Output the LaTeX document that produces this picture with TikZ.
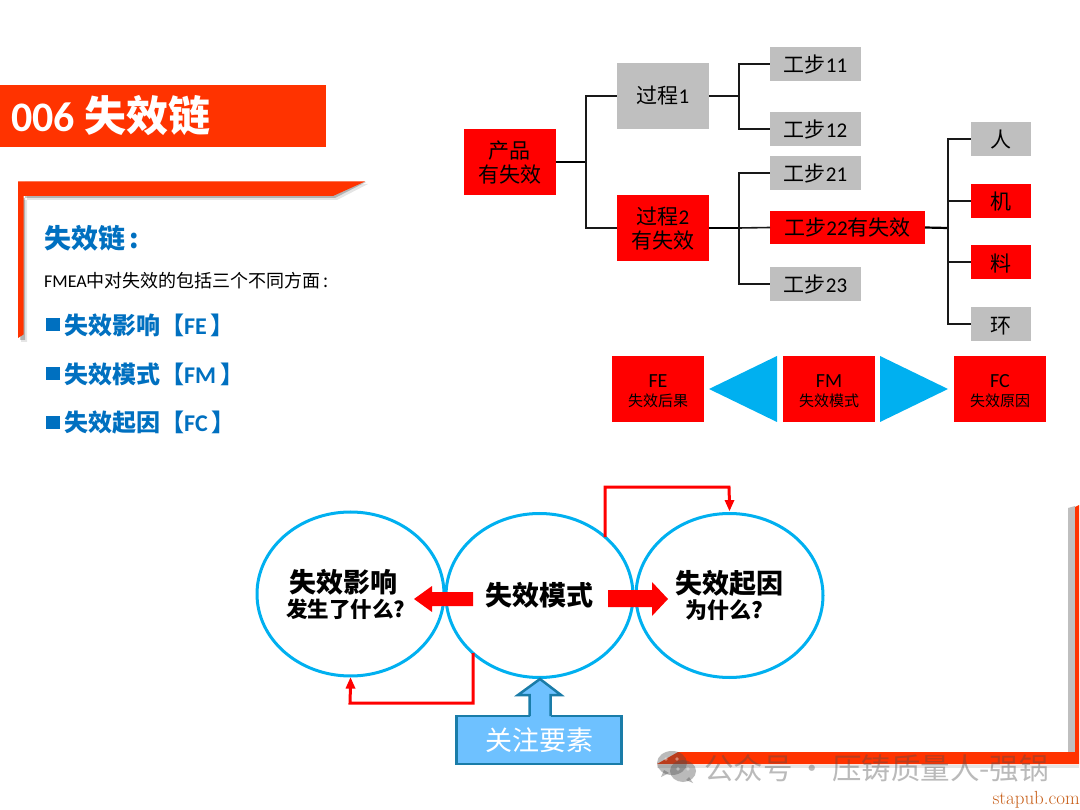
\documentclass[tikz,border=0pt]{standalone}
\usepackage{fontspec}
\usetikzlibrary{shapes.geometric,calc}
\newfontfamily\cjk{Noto Sans CJK SC}
\newfontfamily\lat{Carlito}
\definecolor{orangebar}{HTML}{FF3300}
\definecolor{boxred}{HTML}{FF0000}
\definecolor{boxgray}{HTML}{BFBFBF}
\definecolor{sky}{HTML}{00B0F0}
\definecolor{headblue}{HTML}{0070C0}
\definecolor{focusfill}{HTML}{6EC1FF}
\definecolor{focusline}{HTML}{1A7CA8}
\definecolor{siteorange}{HTML}{C8601A}
\newcommand\fsz[1]{\fontsize{#1}{#1}\selectfont}
\newcommand\dn[2]{\raisebox{-#1}[\height][\depth]{#2}}
\tikzset{
  tbox/.style={rectangle,inner sep=0pt,outer sep=0pt,align=center,text=black,font=\cjk\fontsize{21}{24}\selectfont},
  redbox/.style={tbox,fill=boxred},
  graybox/.style={tbox,fill=boxgray},
  stepsize/.style={minimum width=91pt,minimum height=34pt},
  facsize/.style={minimum width=60pt,minimum height=34pt},
  procsize/.style={minimum width=92pt,minimum height=66pt},
  conn/.style={draw=black!90,line width=1.6pt},
  connheavy/.style={draw=black,line width=2.2pt},
  elbow/.style={draw=boxred,line width=3pt},
  bubble/.style={ellipse,draw=sky,line width=3pt,inner sep=0pt,minimum width=187pt,minimum height=164pt},
  heading/.style={anchor=west,inner sep=0pt,text=headblue,font=\cjk\bfseries\fsz{24}}
}
\begin{document}
\begin{tikzpicture}[x=1pt,y=-1pt]
\useasboundingbox (0,0) rectangle (1080,810);
\fill[white] (0,0) rectangle (1080,810);

% title bar
\fill[orangebar] (0,85) rectangle (326,147);
\node[anchor=west,inner sep=0pt,text=white,font=\cjk\bfseries\fsz{42}] (title) at (11,116) {{\lat 006} 失效链};

% upper left bracket
\fill[black,opacity=.10] (23,200) -- (337,200) -- (368,184) -- (340,184) -- (27,184) -- (27,342) -- (21,342) -- cycle;
\fill[black,opacity=.22] (23,198) -- (335,198) -- (366,182) -- (340,182) -- (25,182) -- (25,340) -- (20,340) -- cycle;
\fill[orangebar] (18,181.5) -- (365,181.5) -- (333,196) -- (23.5,196) -- (23.5,334.5) -- (18,338) -- cycle;

% left text
\node[anchor=west,inner sep=0pt,text=headblue,font=\cjk\bfseries\fsz{27}] (hd) at (44,238) {失效链\,:};
\node[anchor=west,inner sep=0pt,text=black,font=\cjk\fsz{18}] (intro) at (44,281) {{\lat FMEA}中对失效的包括三个不同方面\,:};
\node[heading] (fe) at (64,325) {失效影响【{\lat FE}\,】};
\node[heading] (fm) at (64,374) {失效模式【{\lat FM}\,】};
\node[heading] (fc) at (64,423) {失效起因【{\lat FC}\,】};
\foreach \yy in {325,374,423}
  \fill[headblue] (46,\yy-7) rectangle (60,\yy+6);

% tree
\node[redbox,procsize] (prod) at (509.5,162) {\dn{1pt}{产品}\\\dn{1pt}{有失效}};
\node[graybox,procsize] (p1) at (663,96) {过程{\lat 1}};
\node[redbox,procsize] (p2) at (663,228) {\dn{1pt}{过程{\lat 2}}\\\dn{1pt}{有失效}};
\node[graybox,stepsize] (s11) at (815.5,64) {工步{\lat 11}};
\node[graybox,stepsize] (s12) at (815.5,129) {工步{\lat 12}};
\node[graybox,stepsize] (s21) at (815.5,173) {工步{\lat 21}};
\node[redbox,minimum width=155pt,minimum height=33pt] (s22) at (847.5,227.5) {工步{\lat 22}有失效};
\node[graybox,stepsize] (s23) at (815.5,284) {工步{\lat 23}};
\node[graybox,facsize] (ren) at (1001,139) {\dn{1pt}{人}};
\node[redbox,facsize] (ji) at (1001,201) {\dn{1pt}{机}};
\node[redbox,facsize] (liao) at (1001,262) {\dn{2pt}{料}};
\node[graybox,facsize] (huan) at (1001,324) {\dn{2pt}{环}};

\coordinate (j1) at (586,162);
\coordinate (j2) at (739,96);
\coordinate (j3) at (739,228);
\coordinate (j4) at (948,228);
\draw[connheavy] (prod.east) -- (j1);
\draw[conn] (j1) |- (p1.west);
\draw[conn] (j1) |- (p2.west);
\draw[conn] (p1.east) -- (j2);
\draw[conn] (j2) |- (s11.west);
\draw[conn] (j2) |- (s12.west);
\draw[connheavy] (p2.east) -- (j3);
\draw[conn] (j3) |- (s21.west);
\draw[conn] (j3) -- (s22.west);
\draw[conn] (j3) |- (s23.west);
\draw[connheavy] (s22.east) -- (j4);
\draw[conn] (j4) |- (ren.west);
\draw[conn] (j4) |- (ji.west);
\draw[conn] (j4) |- (liao.west);
\draw[conn] (j4) |- (huan.west);

% FE FM FC row
\node[redbox,procsize,font=\cjk\fsz{15}] (bfe) at (658,389) {\dn{2pt}{\lat\fsz{20}FE}\\[3pt]\dn{3pt}{失效后果}};
\node[redbox,procsize,font=\cjk\fsz{15}] (bfm) at (829,389) {\dn{2pt}{\lat\fsz{20}FM}\\[3pt]\dn{3pt}{失效模式}};
\node[redbox,procsize,font=\cjk\fsz{15}] (bfc) at (1000,389) {\dn{2pt}{\lat\fsz{20}FC}\\[3pt]\dn{3pt}{失效原因}};
\fill[sky] (709,389) -- (777,356) -- (777,422) -- cycle;
\fill[sky] (948,389) -- (880,356) -- (880,422) -- cycle;

% bubbles
\node[bubble] (left) at (350.5,594) {};
\node[bubble] (mid) at (539.5,595.5) {};
\node[bubble] (right) at (729.5,595.5) {};

\node[inner sep=0pt,align=center,font=\cjk\bfseries\fsz{27}] (ltxt) at (343,582) {失效影响};
\node[inner sep=0pt,align=center,font=\cjk\bfseries\fsz{21.5}] (ltxt2) at (346,609) {发生了什么?};
\node[inner sep=0pt,font=\cjk\bfseries\fsz{27}] (mtxt) at (539,595) {失效模式};
\node[inner sep=0pt,font=\cjk\bfseries\fsz{27}] (rtxt) at (729,583) {失效起因};
\node[inner sep=0pt,font=\cjk\bfseries\fsz{22}] (rtxt2) at (724,610) {为什么?};

% block arrows between bubbles
\fill[boxred] (473,592) -- (432,592) -- (432,586) -- (414,599) -- (432,612) -- (432,606) -- (473,606) -- cycle;
\fill[boxred] (608,590) -- (652,590) -- (652,582) -- (668,599) -- (652,616) -- (652,607) -- (608,607) -- cycle;

% elbows
\coordinate (mtop) at (605,537);
\coordinate (rbend) at (729,487);
\coordinate (mbot) at (473,653);
\coordinate (lbend) at (350,703);
\draw[elbow] (mtop) |- (rbend) -- ($(right.north)+(0,-8)$);
\fill[boxred] (right.north) ++(0,-1) -- ++(-5,-11) -- ++(10,0) -- cycle;
\draw[elbow] (mbot) |- (lbend) -- ($(left.south)+(0,8)$);
\fill[boxred] (left.south) ++(0,0) -- ++(-5,11) -- ++(10,0) -- cycle;

% focus box and arrow
\node[rectangle,draw=focusline,fill=focusfill,line width=2.5pt,minimum width=165pt,minimum height=48pt,inner sep=0pt,text=white,font=\cjk\fsz{27}] (focus) at (539,740) {关注要素};
\fill[focusfill] (529.5,714) rectangle (550.5,718);
\draw[draw=focusline,fill=focusfill,line width=2.5pt,line join=miter]
  (529.5,716) -- (529.5,695) -- (518,695) -- (540,679) -- (561,695) -- (550.5,695) -- (550.5,716);

% lower right bracket
\fill[black,opacity=.25] (1068,508) -- (1075,506) -- (1075,752) -- (1068,752) -- cycle;
\fill[black,opacity=.1] (657,765) -- (1079,765) -- (1079,768) -- (657,768) -- cycle;
\fill[orangebar] (1079,505) -- (1075,507) -- (1075,752) -- (678,752) -- (657,764) -- (1079,764) -- cycle;

% watermark
\begin{scope}[opacity=.38]
\fill[black!70] (672,763) ellipse (15pt and 12pt);
\fill[black!70] (661,777) -- (664,770) -- (669,773) -- cycle;
\fill[black!70] (683,771) ellipse (13pt and 11pt);
\fill[black!70] (693,783) -- (689,777) -- (686,780) -- cycle;
\fill[white] (678,769) circle (1.8pt) (688,769) circle (1.8pt);
\fill[white] (666,759) circle (1.8pt) (677,759) circle (1.8pt);
\node[anchor=west,inner sep=0pt,text=black!70,font=\cjk\fsz{29.5}] (wm) at (704,768) {公众号\,·\,压铸质量人-强锅};
\end{scope}

% site mark
\node[anchor=east,inner sep=0pt,text=siteorange,font=\fsz{19}] (site) at (1080,800) {stapub.com};
\end{tikzpicture}
\end{document}
